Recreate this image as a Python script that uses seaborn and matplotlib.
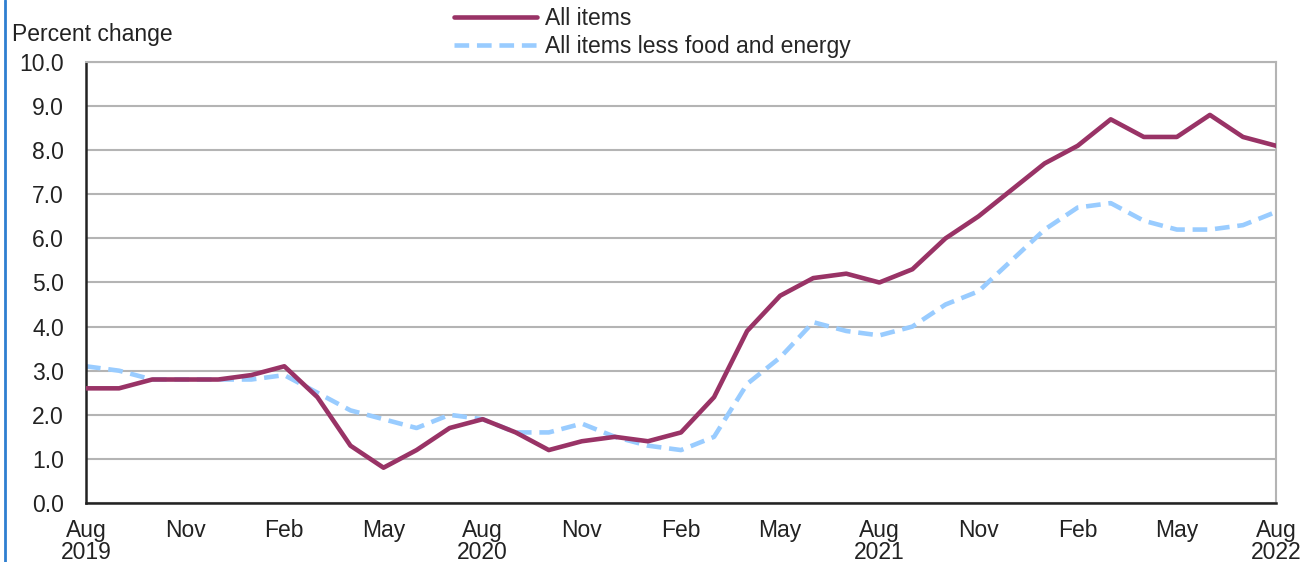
import numpy as np
import pandas as pd
import matplotlib.pyplot as plt
import seaborn as sns
from matplotlib.lines import Line2D

# monthly 12-month percent change, Aug 2019 - Aug 2022
months = pd.date_range("2019-08-01", "2022-08-01", freq="MS")
all_items = [2.6, 2.6, 2.8, 2.8, 2.8, 2.9, 3.1, 2.4, 1.3, 0.8, 1.2, 1.7,
             1.9, 1.6, 1.2, 1.4, 1.5, 1.4, 1.6, 2.4, 3.9, 4.7, 5.1, 5.2,
             5.0, 5.3, 6.0, 6.5, 7.1, 7.7, 8.1, 8.7, 8.3, 8.3, 8.8, 8.3,
             8.1]
core = [3.1, 3.0, 2.8, 2.8, 2.8, 2.8, 2.9, 2.5, 2.1, 1.9, 1.7, 2.0,
        1.9, 1.6, 1.6, 1.8, 1.5, 1.3, 1.2, 1.5, 2.7, 3.3, 4.1, 3.9,
        3.8, 4.0, 4.5, 4.8, 5.5, 6.2, 6.7, 6.8, 6.4, 6.2, 6.2, 6.3,
        6.6]
series_names = ["All items", "All items less food and energy"]
colors = {"All items": "#993366", "All items less food and energy": "#99ccff"}

idx = np.arange(len(months))
df = pd.DataFrame({"t": idx, series_names[0]: all_items, series_names[1]: core})
long = df.melt(id_vars="t", var_name="series", value_name="pct")

sns.set_style("white")
plt.rcParams['font.family'] = ['Liberation Sans', 'DejaVu Sans']
fs = 16.5
lw = 3.3
dash = (3.2, 1.7)

fig, ax = plt.subplots(figsize=(13.09, 5.62), dpi=100)
fig.subplots_adjust(left=0.0657, right=0.9748, bottom=0.105, top=0.8897)

sns.lineplot(data=long, x="t", y="pct", hue="series", style="series",
             palette=colors, dashes={series_names[0]: "", series_names[1]: dash},
             linewidth=lw, ax=ax, legend=False)
for ln, z in zip(ax.lines, [3, 2]):
    ln.set_zorder(z)

ax.set_xlim(0, len(months) - 1)
ax.set_ylim(0, 10)
ax.set_yticks(np.arange(0, 11, 1))
ax.set_yticklabels([f"{v:.1f}" for v in np.arange(0, 11, 1)], fontsize=fs, color="#222222")
ax.tick_params(axis="y", length=0, pad=16)

xlabels = []
for i, m in enumerate(months):
    if i % 3 == 0:
        lab = m.strftime("%b")
        if m.month == 8:
            lab += "\n" + str(m.year)
        xlabels.append(lab)
    else:
        xlabels.append("")
ax.set_xticks(idx)
ax.set_xticklabels(xlabels, fontsize=fs, color="#222222", linespacing=0.95)
ax.tick_params(axis="x", direction="inout", length=13, width=1.6, color="#222222", pad=5)

ax.yaxis.grid(True, color="#b4b4b4", linewidth=1.5)
ax.set_axisbelow(True)
ax.set_xlabel("")
ax.set_ylabel("")
for s in ["left", "bottom"]:
    ax.spines[s].set_color("#222222")
    ax.spines[s].set_linewidth(1.8)
for s in ["top", "right"]:
    ax.spines[s].set_color("#b4b4b4")
    ax.spines[s].set_linewidth(1.5)

fig.text(12 / 1309, 1 - 34 / 562, "Percent change", fontsize=fs, color="#222222", va="center", ha="left")

handles = [Line2D([], [], color=colors[series_names[0]], linewidth=lw),
           Line2D([], [], color=colors[series_names[1]], linewidth=lw, dashes=dash)]
fig.legend(handles, series_names, loc="upper left", bbox_to_anchor=(452 / 1309, 1 - 5 / 562),
           frameon=False, fontsize=fs, handlelength=3.6, handletextpad=0.35,
           labelspacing=0.22, borderaxespad=0, borderpad=0.1)

# blue border at the left edge of the original image
fig.add_artist(Line2D([5 / 1309, 5 / 1309], [0, 1], color="#2f7fd0", linewidth=2.0))

fig.savefig("out.png", dpi=100)
